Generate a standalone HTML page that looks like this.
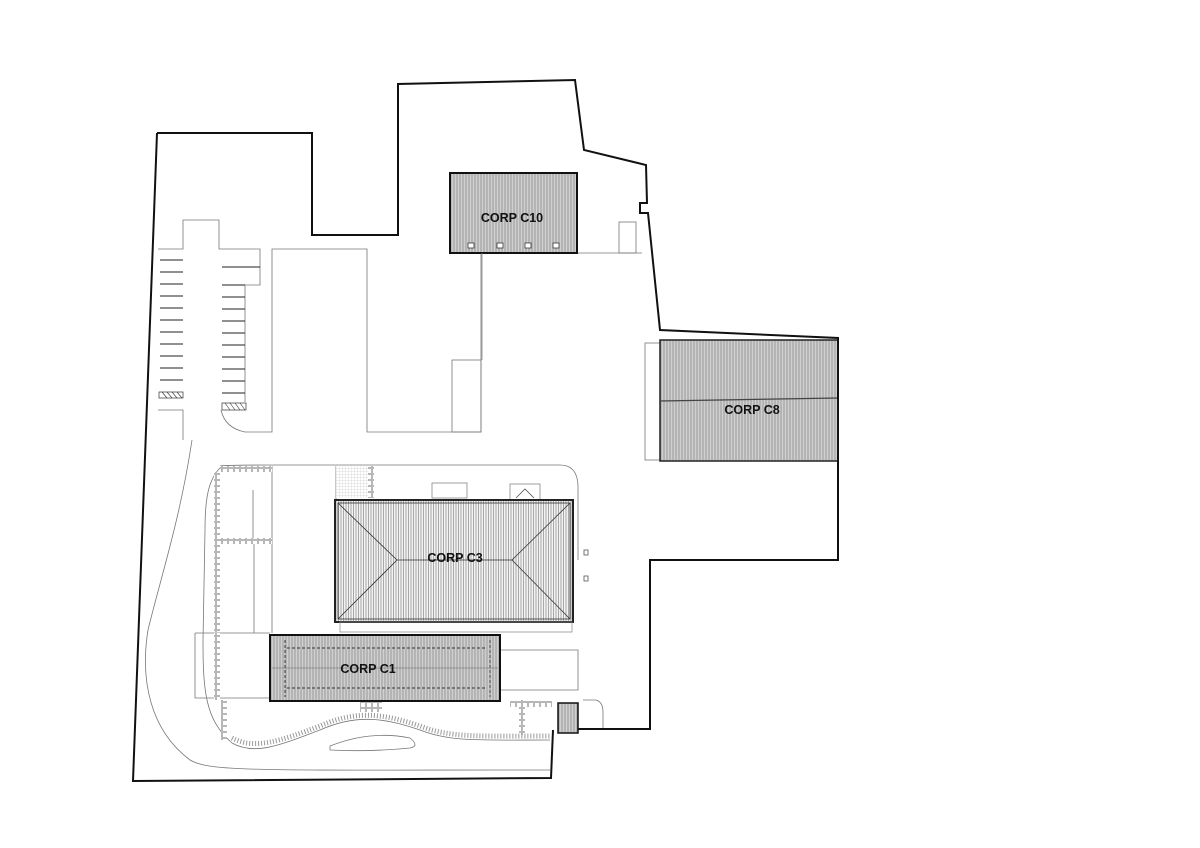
<!DOCTYPE html>
<html><head><meta charset="utf-8"><style>
html,body{margin:0;padding:0;background:#fff;}
svg{display:block;}
text{font-family:"Liberation Sans",sans-serif;font-weight:bold;fill:#111;}
</style></head><body>
<svg width="1200" height="848" viewBox="0 0 1200 848" xmlns="http://www.w3.org/2000/svg">
<defs>
<pattern id="vl" width="3" height="4" patternUnits="userSpaceOnUse"><rect width="3" height="4" fill="#cfcfcf"/><line x1="1" y1="0" x2="1" y2="4" stroke="#8a8a8a" stroke-width="0.8"/></pattern>
<pattern id="vl2" width="3" height="4" patternUnits="userSpaceOnUse"><rect width="3" height="4" fill="#d8d8d8"/><line x1="1" y1="0" x2="1" y2="4" stroke="#999" stroke-width="0.7"/></pattern>
<pattern id="vl3" width="2.5" height="4" patternUnits="userSpaceOnUse"><rect width="2.5" height="4" fill="#f2f2f2"/><line x1="1" y1="0" x2="1" y2="4" stroke="#777" stroke-width="0.6"/></pattern>
<pattern id="brick" width="6" height="6" patternUnits="userSpaceOnUse"><rect width="6" height="6" fill="#fff"/><rect x="0.5" y="0.5" width="5" height="5" fill="none" stroke="#888" stroke-width="0.6"/></pattern>
<pattern id="grid" width="3" height="3" patternUnits="userSpaceOnUse"><rect width="3" height="3" fill="#fff"/><path d="M0 0H3M0 0V3" stroke="#bbb" stroke-width="0.5"/></pattern>
</defs>
<g fill="none" stroke="#777" stroke-width="0.8">
<path d="M158 249H183V220H219V249H260V285H245V402"/>
<path d="M183 420V410H158"/>
<path d="M183 440V420"/>
<path d="M221 410Q225 428 245 432H272V249H367V432H481V253"/>
<rect x="452" y="360" width="29" height="72"/>
<path d="M577 253H642"/>
<rect x="619" y="222" width="17" height="31"/>
<rect x="645" y="343" width="15" height="117"/>
<path d="M192 440 C180 520 160 580 148 630 C140 680 150 730 190 760 C210 772 260 770 550 770"/>
<path d="M220 468 C208 480 205 500 205 530 L203 640 C203 690 205 720 232 743 C255 756 280 745 320 730 C360 712 390 720 420 730 C450 742 480 740 550 740"/>
<path d="M220 466 Q225 465 272 465 H560 Q577 465 578 485 V560"/>
<path d="M330 746 Q370 730 410 738 Q420 746 410 748 Q370 752 330 750 Z"/>
<path d="M195 633H270M195 633V698H270M500 650H578V690H500"/>
<path d="M272 466V633M336 466V500M222 540H254V633M253 490V540"/>
<path d="M583 700H596Q603 702 603 712V728"/>
</g>
<g fill="url(#brick)" stroke="none">
<rect x="214" y="472" width="6" height="160"/>
<rect x="220" y="466" width="52" height="6"/>
<rect x="220" y="538" width="52" height="6"/>
<rect x="214" y="633" width="6" height="67"/>
<rect x="368" y="466" width="6" height="32"/>
<rect x="221" y="700" width="6" height="40"/>
<rect x="519" y="700" width="6" height="35"/>
<rect x="510" y="701" width="42" height="6"/>
<rect x="360" y="702" width="22" height="10"/>
</g>
<path d="M232 738 C255 750 280 741 320 726 C360 708 390 716 420 726 C450 738 480 736 550 736" fill="none" stroke="#999" stroke-width="5" stroke-dasharray="1 2"/>
<rect x="336" y="466" width="32" height="32" fill="url(#grid)"/>
<rect x="432" y="483" width="35" height="15" fill="none" stroke="#888" stroke-width="0.8"/>
<rect x="510" y="484" width="30" height="16" fill="none" stroke="#888" stroke-width="0.8"/>
<path d="M516 498L525 489L534 498" fill="none" stroke="#555" stroke-width="0.8"/>
<rect x="584" y="550" width="4" height="5" fill="none" stroke="#555" stroke-width="0.8"/>
<rect x="584" y="576" width="4" height="5" fill="none" stroke="#555" stroke-width="0.8"/>
<g stroke="#222" stroke-width="1">
<path d="M160 260H183M160 272H183M160 284H183M160 296H183M160 308H183M160 320H183M160 332H183M160 344H183M160 356H183M160 368H183M160 380H183"/>
<path d="M222 267H260M222 285H245M222 297H245M222 309H245M222 321H245M222 333H245M222 345H245M222 357H245M222 369H245M222 381H245M222 393H245"/>
</g>
<rect x="159" y="392" width="24" height="6" fill="#fff" stroke="#333" stroke-width="0.7"/>
<path d="M162 392l5 6M167 392l5 6M172 392l5 6M177 392l5 6" stroke="#333" stroke-width="0.6"/>
<rect x="222" y="403" width="24" height="7" fill="#fff" stroke="#333" stroke-width="0.7"/>
<path d="M225 403l5 7M230 403l5 7M235 403l5 7M240 403l5 7" stroke="#333" stroke-width="0.6"/>
<rect x="335" y="500" width="238" height="122" fill="url(#vl3)" stroke="#222" stroke-width="2"/>
<rect x="338" y="503" width="232" height="116" fill="none" stroke="#333" stroke-width="0.8"/>
<path d="M338 503L397 560L338 619M570 503L512 560L570 619M397 560H512" fill="none" stroke="#333" stroke-width="0.8"/>
<text x="455" y="562" font-size="12.5" text-anchor="middle">CORP C3</text>
<path d="M340 622H572V632H340Z" fill="none" stroke="#888" stroke-width="0.7"/>
<rect x="270" y="635" width="230" height="66" fill="url(#vl)" stroke="#111" stroke-width="2"/>
<path d="M285 640V697M490 640V697M287 648H485M287 688H485" fill="none" stroke="#333" stroke-width="0.9" stroke-dasharray="3 2"/>
<path d="M272 668H498" stroke="#666" stroke-width="0.6"/>
<text x="368" y="673" font-size="12.5" text-anchor="middle">CORP C1</text>
<rect x="450" y="173" width="127" height="80" fill="url(#vl)" stroke="#111" stroke-width="2"/>
<g fill="#fff" stroke="#222" stroke-width="0.7">
<rect x="468" y="243" width="6" height="5"/><rect x="497" y="243" width="6" height="5"/><rect x="525" y="243" width="6" height="5"/><rect x="553" y="243" width="6" height="5"/>
</g>
<text x="512" y="222" font-size="12.5" text-anchor="middle">CORP C10</text>
<rect x="660" y="340" width="178" height="121" fill="url(#vl)" stroke="#222" stroke-width="1.5"/>
<path d="M660 401L838 398" stroke="#444" stroke-width="1.2"/>
<text x="752" y="414" font-size="12.5" text-anchor="middle">CORP C8</text>
<rect x="558" y="703" width="20" height="30" fill="url(#vl)" stroke="#111" stroke-width="1.5"/>
<path d="M157 133H312V235H398V84L575 80L584 150L646 165L647 203L640 203L640 213L648 213L660 330L838 338V560H650V729H578" fill="none" stroke="#111" stroke-width="2"/>
<path d="M553 730L551 778L133 781L157 133" fill="none" stroke="#111" stroke-width="2"/>
<path d="M482 253V360" stroke="#888" stroke-width="0.8"/>
</svg>
</body></html>
